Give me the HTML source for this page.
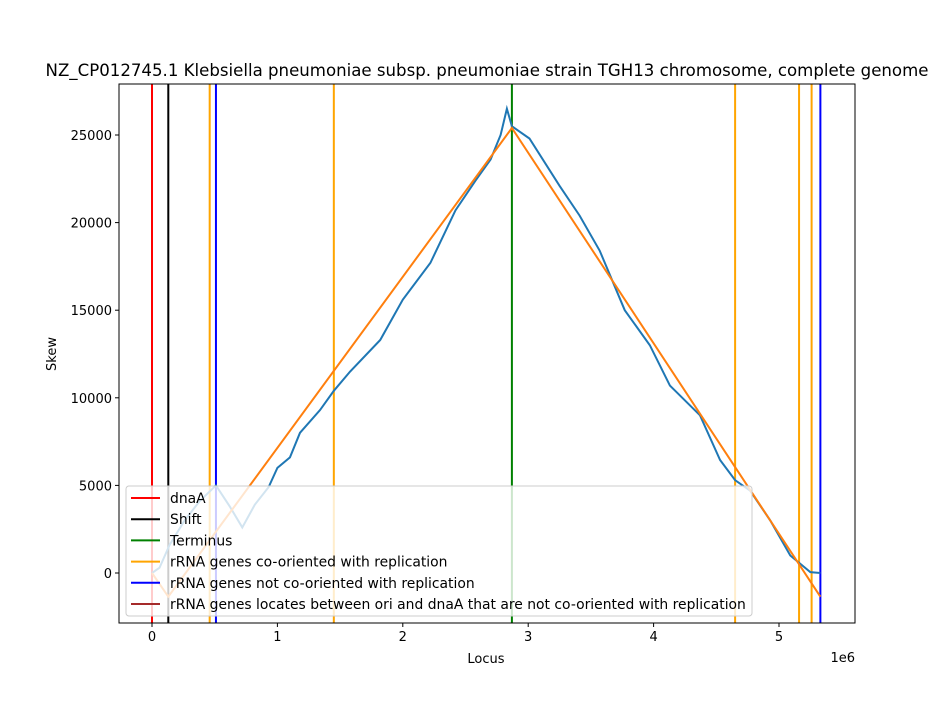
<!DOCTYPE html>
<html><head><meta charset="utf-8"><style>
body{margin:0;background:#fff;font-family:"DejaVu Sans","Liberation Sans",sans-serif;}
text{font-family:"DejaVu Sans","Liberation Sans",sans-serif;}
</style></head><body>
<svg id="chart" width="950" height="700" xmlns="http://www.w3.org/2000/svg">
<rect width="950" height="700" fill="#fff"/>
<text x="487" y="76" font-size="16.6" text-anchor="middle">NZ_CP012745.1 Klebsiella pneumoniae subsp. pneumoniae strain TGH13 chromosome, complete genome</text>
<g id="marks"></g>
<rect x="119" y="84" width="736" height="539" fill="none" stroke="#000" stroke-width="1"/>
<g id="axes"></g>
<text x="486" y="663" font-size="13" text-anchor="middle">Locus</text>
<text x="56" y="354" font-size="13" text-anchor="middle" transform="rotate(-90 56 354)">Skew</text>
<text x="855" y="662" font-size="13" text-anchor="end">1e6</text>
<g id="legend"></g>
</svg>
<script>
const skewX=[0,0.06,0.14,0.26,0.38,0.51,0.62,0.72,0.82,0.93,1.0,1.10,1.18,1.34,1.45,1.58,1.82,2.0,2.22,2.42,2.58,2.70,2.78,2.83,2.87,3.01,3.25,3.41,3.57,3.77,3.97,4.13,4.37,4.53,4.65,4.77,4.93,5.09,5.25,5.33];
const skewY=[0,300,1600,3000,4100,5000,3800,2600,3900,4900,6000,6600,8000,9300,10400,11500,13300,15600,17700,20700,22400,23600,25000,26500,25500,24800,22100,20400,18400,15000,13000,10700,9000,6450,5300,4700,3000,1000,50,0];
const fitX=[0,0.13,2.87,5.33];
const fitY=[0,-1350,25400,-1350];
const dnaA=[0];
const shift=[0.13];
const terminus=[2.87];
const rrnaCo=[0.46,1.45,4.65,5.16,5.26];
const rrnaNot=[0.51,5.33];
const xTicks=[0,1,2,3,4,5];
const yTicks=[0,5000,10000,15000,20000,25000];
const legendLabels=["dnaA","Shift","Terminus","rRNA genes co-oriented with replication","rRNA genes not co-oriented with replication","rRNA genes locates between ori and dnaA that are not co-oriented with replication"];
const legendColors=["red","black","green","orange","blue","#a52a2a"];

const NS="http://www.w3.org/2000/svg";
const X=v=>152+v*125.4;
const Y=v=>573-v*0.01752;
const B=623;
function mk(tag,attrs,parent){const e=document.createElementNS(NS,tag);for(const k in attrs)e.setAttribute(k,attrs[k]);parent.appendChild(e);return e;}
const marks=document.getElementById('marks'),axes=document.getElementById('axes'),leg=document.getElementById('legend');
function vlines(arr,color,name){arr.forEach(v=>{const l=mk('line',{x1:X(v),x2:X(v),y1:84,y2:B,stroke:color,'stroke-width':2},marks);

});}
vlines(dnaA,'red','dnaa-line');vlines(shift,'black','shift-line');vlines(terminus,'green','terminus-line');
vlines(rrnaCo,'orange','rrna-co-oriented-line');vlines(rrnaNot,'blue','rrna-not-co-oriented-line');
const sk=mk('polyline',{points:skewX.map((x,i)=>X(x)+','+Y(skewY[i])).join(' '),fill:'none',stroke:'#1f77b4','stroke-width':2},marks);


const ft=mk('polyline',{points:fitX.map((x,i)=>X(x)+','+Y(fitY[i])).join(' '),fill:'none',stroke:'#ff7f0e','stroke-width':2},marks);


xTicks.forEach(t=>{mk('line',{x1:X(t),x2:X(t),y1:B,y2:B+4,stroke:'#000'},axes);
const tx=mk('text',{x:X(t),y:B+18,'font-size':13,'text-anchor':'middle'},axes);tx.textContent=t;

});
yTicks.forEach(t=>{mk('line',{x1:115,x2:119,y1:Y(t),y2:Y(t),stroke:'#000'},axes);
const tx=mk('text',{x:112,y:Y(t)+5,'font-size':13,'text-anchor':'end'},axes);tx.textContent=t;

});
const box=mk('rect',{x:126,y:486,width:626,height:130,rx:3,fill:'#fff','fill-opacity':0.8,stroke:'#ccc'},leg);


legendLabels.forEach((s,i)=>{const y=498+i*21.2;
mk('line',{x1:131,x2:160,y1:y,y2:y,stroke:legendColors[i],'stroke-width':2},leg);
const tx=mk('text',{x:170,y:y+5,'font-size':13.9},leg);tx.textContent=s;

});
</script>
</body></html>
